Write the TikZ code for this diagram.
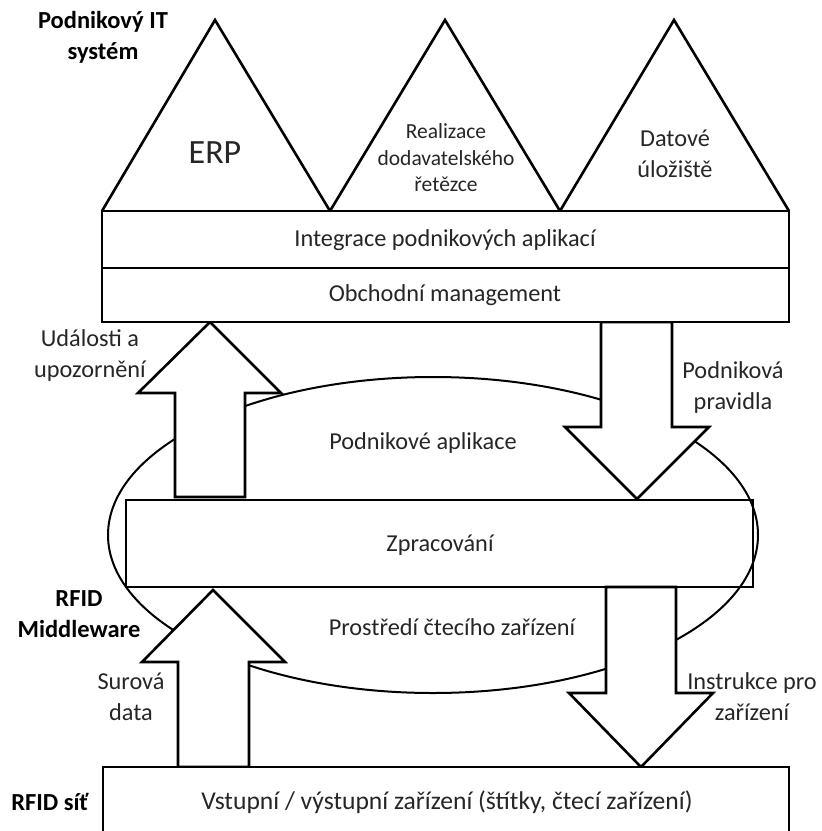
\documentclass[tikz,border=0pt]{standalone}
\usepackage{fontspec}
\setmainfont{Carlito}
\begin{document}
\begin{tikzpicture}[x=1pt,y=-1pt,line join=miter,
  part/.style={draw,line width=2.6pt,fill=white},
  ring/.style={draw,line width=2pt},
  txt/.style={font=\fontsize{24.3}{31}\selectfont,align=center,inner sep=0pt,text=black!85},
  small/.style={font=\fontsize{21.5}{26.5}\selectfont,align=center,inner sep=0pt,text=black!85},
  big/.style={font=\fontsize{34}{40}\selectfont,inner sep=0pt,text=black!85},
  layer/.style={font=\bfseries\fontsize{24.5}{31}\selectfont,align=center,inner sep=0pt}]
\useasboundingbox (0,0) rectangle (822,831);
\clip (0,0) rectangle (822,831);

% processing block, with the middleware ring passing over its ends
\draw[part] (126,500) rectangle (753,587);
\draw[ring] (433,535) ellipse [x radius=325pt, y radius=158pt];

% block arrows
\draw[part] (175,497) -- (175,393) -- (138,393) -- (210,322) -- (281,393) -- (245,393) -- (245,497) -- cycle;
\draw[part] (601,322) -- (601,427) -- (565,427) -- (637,499) -- (709,427) -- (672,427) -- (672,322) -- cycle;
\draw[part] (178,767) -- (178,662) -- (142,662) -- (213,590) -- (285,662) -- (249,662) -- (249,767) -- cycle;
\draw[part] (606,587) -- (606,693) -- (569,693) -- (641,767) -- (713,693) -- (676,693) -- (676,587) -- cycle;

% enterprise applications
\coordinate (b0) at (102,211);
\coordinate (b1) at (330,211);
\coordinate (b2) at (560,211);
\coordinate (b3) at (789,211);
\draw[part] (b0) -- (215,20) -- (b1);
\draw[part] (b1) -- (445,20) -- (b2);
\draw[part] (b2) -- (674,20) -- (b3);
\draw[part] (102,211) rectangle (789,268);
\draw[part] (102,268) rectangle (789,322);

% device layer
\draw[part] (103,767) rectangle (789,845);

% labels
\node[layer] (itsys) at (103,37) {Podnikový IT\\systém};
\node[big] (erp) at (215,153) {ERP};
\node[small] (scm) at (446,158) {Realizace\\dodavatelského\\řetězce};
\node[txt] (dw) at (675,154) {Datové\\úložiště};
\node[txt] (eai) at (445,240) {Integrace podnikových aplikací};
\node[txt] (bm) at (445,295) {Obchodní management};
\node[txt] (events) at (90,356) {Události a\\upozornění};
\node[txt] (rules) at (733,388) {Podniková\\pravidla};
\node[txt] (apps) at (423,443) {Podnikové aplikace};
\node[txt] (proc) at (440,545) {Zpracování};
\node[layer] (mw) at (79,614) {RFID\\Middleware};
\node[txt] (env) at (452,627) {Prostředí čtecího zařízení};
\node[txt] (raw) at (131,697) {Surová\\data};
\node[txt] (instr) at (752,697) {Instrukce pro\\zařízení};
\node[layer] (net) at (50,802) {RFID síť};
\node[txt,font=\fontsize{25.6}{31}\selectfont] (io) at (447,802) {Vstupní / výstupní zařízení (štítky, čtecí zařízení)};
\end{tikzpicture}
\end{document}
